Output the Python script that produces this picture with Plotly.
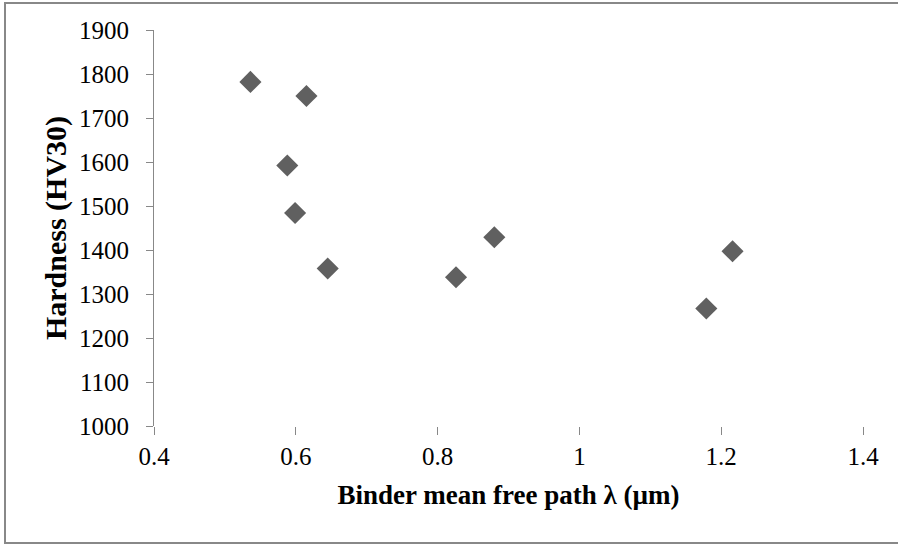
import plotly.graph_objects as go

mfp_um = [0.536, 0.615, 0.588, 0.599, 0.645, 0.826, 0.880, 1.179, 1.216]
hardness_hv30 = [1782, 1750, 1592, 1484, 1358, 1338, 1429, 1267, 1397]

x_ticks = [0.4, 0.6, 0.8, 1.0, 1.2, 1.4]
x_tick_labels = ["0.4", "0.6", "0.8", "1", "1.2", "1.4"]
y_ticks = [1000, 1100, 1200, 1300, 1400, 1500, 1600, 1700, 1800, 1900]

font_family = "Liberation Serif"

fig = go.Figure(go.Scatter(
    x=mfp_um, y=hardness_hv30, mode="markers",
    marker=dict(symbol="diamond", size=17, color="#606060"),
    cliponaxis=False,
))

px_x = lambda p: (p - 154) / 709
px_y = lambda p: (426 - p) / 396
frame = dict(type="line", xref="paper", yref="paper",
             line=dict(color="#888888", width=2), layer="below")

fig.update_layout(
    width=898, height=544,
    margin=dict(l=154, r=35, t=30, b=118),
    paper_bgcolor="white", plot_bgcolor="white",
    showlegend=False,
    font=dict(family=font_family, size=25, color="black"),
    xaxis=dict(
        range=[0.4, 1.4], tickvals=x_ticks, ticktext=x_tick_labels,
        showgrid=False, zeroline=False, showline=False,
        ticks="outside", ticklen=8, tickcolor="#888888", tickwidth=1,
        tickfont=dict(family=font_family, size=25),
        title=dict(text="<b>Binder mean free path λ (µm)</b>",
                   font=dict(family=font_family, size=27), standoff=16),
    ),
    yaxis=dict(
        range=[1000, 1900], tickvals=y_ticks,
        showgrid=False, zeroline=False, showline=True,
        linecolor="#888888", linewidth=1,
        ticks="outside", ticklen=7, tickcolor="#888888", tickwidth=1,
        ticklabelstandoff=12,
        tickfont=dict(family=font_family, size=25),
        title=dict(text="<b>Hardness (HV30)</b>",
                   font=dict(family=font_family, size=30), standoff=3),
    ),
    shapes=[
        dict(frame, x0=px_x(5), x1=px_x(5), y0=px_y(543), y1=px_y(3)),
        dict(frame, x0=px_x(4), x1=px_x(920), y0=px_y(3), y1=px_y(3)),
        dict(frame, x0=px_x(4), x1=px_x(920), y0=px_y(543), y1=px_y(543)),
    ],
)

fig.write_html("out.html", config={"displayModeBar": False},
               post_script="document.body.style.margin='0';document.body.style.overflow='hidden';")
